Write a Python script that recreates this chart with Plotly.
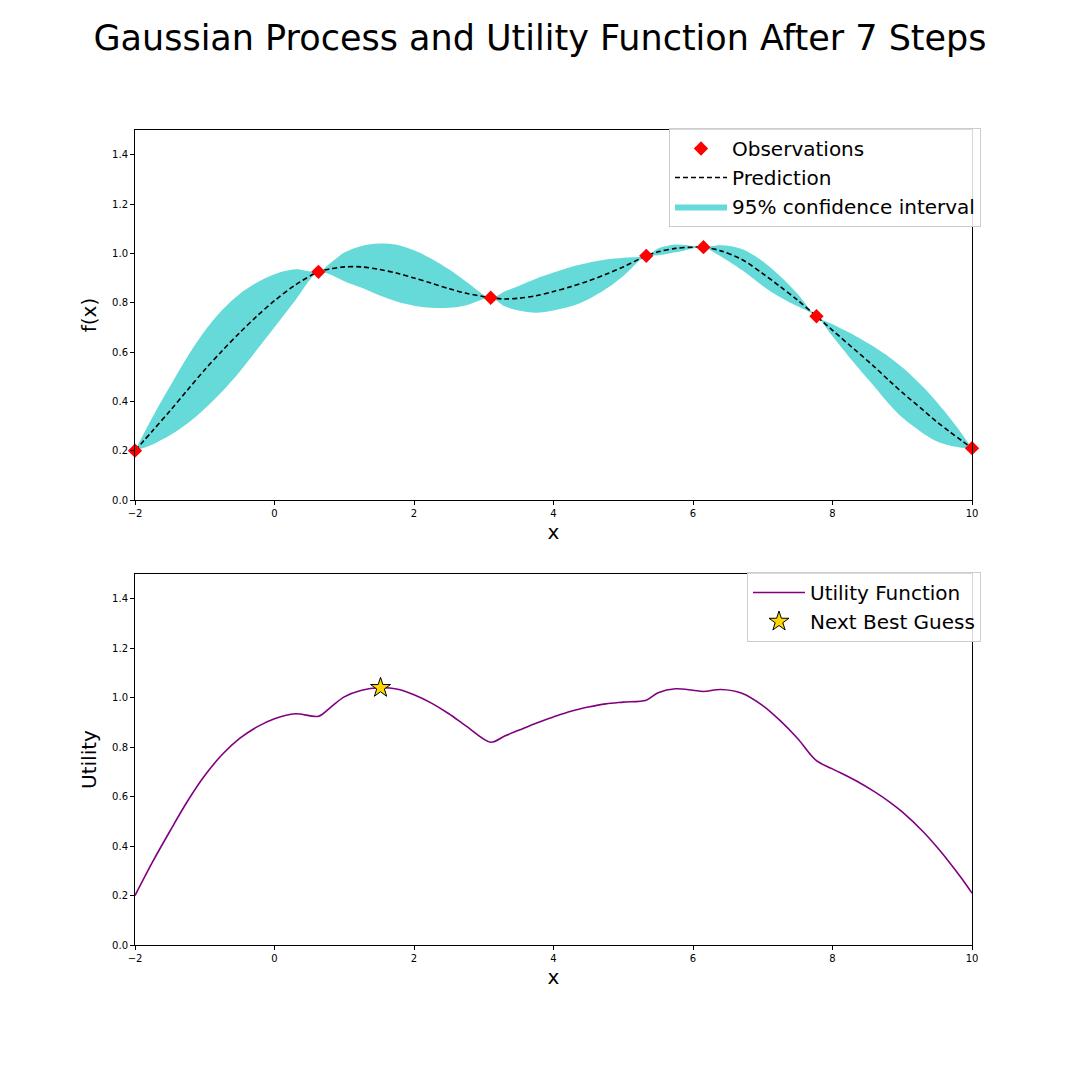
import plotly.graph_objects as go

# ---- data ----
obs_x = [-2.0, 0.63, 3.1, 5.33, 6.15, 7.77, 10.0]
obs_y = [0.20, 0.925, 0.82, 0.99, 1.025, 0.745, 0.21]

grid_x = [-2.0, -1.75, -1.5, -1.25, -1.0, -0.75, -0.5, -0.25, 0.0, 0.3, 0.63,
          0.8, 1.0, 1.25, 1.5, 1.75, 2.0, 2.25, 2.5, 2.75, 3.1,
          3.3, 3.5, 3.75, 4.0, 4.25, 4.5, 4.75, 5.0, 5.33,
          5.5, 5.75, 6.0, 6.15,
          6.4, 6.7, 7.0, 7.25, 7.5, 7.77,
          8.0, 8.35, 8.6, 8.82, 9.0, 9.3, 9.5, 9.68, 9.85, 10.0]
pred_mean = [0.20, 0.28, 0.361, 0.445, 0.528, 0.605, 0.678, 0.746, 0.808, 0.872, 0.925,
             0.937, 0.945, 0.945, 0.935, 0.92, 0.90, 0.879, 0.857, 0.838, 0.82,
             0.815, 0.818, 0.828, 0.845, 0.865, 0.888, 0.915, 0.945, 0.99,
             1.006, 1.02, 1.025, 1.025,
             1.01, 0.975, 0.918, 0.865, 0.81, 0.745,
             0.688, 0.602, 0.54, 0.482, 0.436, 0.364, 0.316, 0.277, 0.241, 0.21]
ci_upper = [0.20, 0.335, 0.46, 0.58, 0.685, 0.77, 0.835, 0.882, 0.915, 0.935, 0.925,
            0.96, 1.003, 1.03, 1.04, 1.035, 1.012, 0.978, 0.935, 0.885, 0.82,
            0.845, 0.868, 0.897, 0.922, 0.945, 0.962, 0.975, 0.982, 0.99,
            1.02, 1.036, 1.03, 1.025,
            1.033, 1.018, 0.968, 0.907, 0.835, 0.745,
            0.712, 0.662, 0.62, 0.578, 0.538, 0.458, 0.395, 0.333, 0.27, 0.21]
ci_lower = [0.20, 0.225, 0.262, 0.31, 0.37, 0.44, 0.52, 0.61, 0.70, 0.81, 0.925,
            0.914, 0.887, 0.86, 0.83, 0.805, 0.788, 0.779, 0.779, 0.79, 0.82,
            0.785, 0.768, 0.759, 0.768, 0.785, 0.814, 0.855, 0.908, 0.99,
            0.992, 1.004, 1.02, 1.025,
            0.987, 0.932, 0.868, 0.822, 0.785, 0.745,
            0.664, 0.542, 0.46, 0.386, 0.334, 0.27, 0.237, 0.221, 0.212, 0.21]
utility = [0.20, 0.335, 0.46, 0.58, 0.685, 0.77, 0.835, 0.882, 0.915, 0.935, 0.925,
           0.96, 1.003, 1.03, 1.04, 1.035, 1.012, 0.978, 0.935, 0.885, 0.82,
           0.845, 0.868, 0.897, 0.922, 0.945, 0.962, 0.975, 0.982, 0.99,
           1.02, 1.036, 1.03, 1.025,
           1.033, 1.018, 0.968, 0.907, 0.835, 0.745,
           0.712, 0.662, 0.62, 0.578, 0.538, 0.458, 0.395, 0.333, 0.27, 0.21]
best_x = [1.52]
best_y = [1.04]

x_ticks = [-2, 0, 2, 4, 6, 8, 10]
y_ticks = [0.0, 0.2, 0.4, 0.6, 0.8, 1.0, 1.2, 1.4]

FONT = "DejaVu Sans"
BAND = "rgb(102,217,217)"
SM = 0.9

fig = go.Figure()

# top panel
fig.add_trace(go.Scatter(x=grid_x, y=ci_upper, mode="lines", line=dict(width=0, shape="spline", smoothing=SM),
                         showlegend=False, hoverinfo="skip", xaxis="x", yaxis="y"))
fig.add_trace(go.Scatter(x=grid_x, y=ci_lower, mode="lines", line=dict(width=0, shape="spline", smoothing=SM),
                         fill="tonexty", fillcolor=BAND, name="95% confidence interval",
                         legend="legend", legendrank=3, xaxis="x", yaxis="y"))
fig.add_trace(go.Scatter(x=grid_x, y=pred_mean, mode="lines",
                         line=dict(color="black", width=1.6, dash="5px,3px", shape="spline", smoothing=SM),
                         name="Prediction", legend="legend", legendrank=2, xaxis="x", yaxis="y"))
fig.add_trace(go.Scatter(x=obs_x, y=obs_y, mode="markers",
                         marker=dict(symbol="diamond", color="red", size=11),
                         name="Observations", legend="legend", legendrank=1, xaxis="x", yaxis="y", cliponaxis=False))

# bottom panel
fig.add_trace(go.Scatter(x=grid_x, y=utility, mode="lines",
                         line=dict(color="purple", width=1.6, shape="spline", smoothing=SM),
                         name="Utility Function", legend="legend2", legendrank=1, xaxis="x2", yaxis="y2"))
fig.add_trace(go.Scatter(x=best_x, y=best_y, mode="markers",
                         marker=dict(symbol="star", color="gold", size=15, line=dict(color="black", width=1)),
                         name="Next Best Guess", legend="legend2", legendrank=2, xaxis="x2", yaxis="y2"))

axis_common = dict(range=[-2, 10], tickvals=x_ticks, ticks="outside", ticklen=4, tickcolor="black",
                   showline=True, linecolor="black", linewidth=1, mirror=True, showgrid=False,
                   zeroline=False, automargin=False, tickfont=dict(family=FONT, size=10, color="black"))
yaxis_common = dict(range=[0, 1.5], tickvals=y_ticks, tickformat=".1f", ticks="outside", ticklen=4,
                    tickcolor="black", showline=True, linecolor="black", linewidth=1, mirror=True,
                    showgrid=False, zeroline=False, automargin=False,
                    tickfont=dict(family=FONT, size=10, color="black"))

H = 1080.0
legend_common = dict(bgcolor="rgba(255,255,255,0.85)", bordercolor="#cccccc", borderwidth=1,
                     font=dict(family=FONT, size=20, color="black"), tracegroupgap=0,
                     itemwidth=52, traceorder="normal", xanchor="right", yanchor="top")
fig.update_layout(
    width=1080, height=1080,
    margin=dict(l=0, r=0, t=0, b=0),
    paper_bgcolor="white", plot_bgcolor="white",
    font=dict(family=FONT, color="black"),
    title=dict(text="Gaussian Process and Utility Function After 7 Steps",
               x=0.5, xanchor="center", y=1 - 38 / H, yanchor="middle",
               font=dict(family=FONT, size=35, color="black")),
    xaxis=dict(domain=[135 / H, 972 / H], anchor="y",
               title=dict(text="x", font=dict(family=FONT, size=20), standoff=6), **axis_common),
    yaxis=dict(domain=[1 - 500 / H, 1 - 130 / H], anchor="x",
               title=dict(text="f(x)", font=dict(family=FONT, size=20), standoff=10), **yaxis_common),
    xaxis2=dict(domain=[135 / H, 972 / H], anchor="y2",
                title=dict(text="x", font=dict(family=FONT, size=20), standoff=6), **axis_common),
    yaxis2=dict(domain=[1 - 945 / H, 1 - 574 / H], anchor="x2",
                title=dict(text="Utility", font=dict(family=FONT, size=20), standoff=10), **yaxis_common),
    legend=dict(x=981 / H, y=1 - 128 / H, **legend_common),
    legend2=dict(x=981 / H, y=1 - 572 / H, **legend_common),
)

fig.write_html("out.html")
